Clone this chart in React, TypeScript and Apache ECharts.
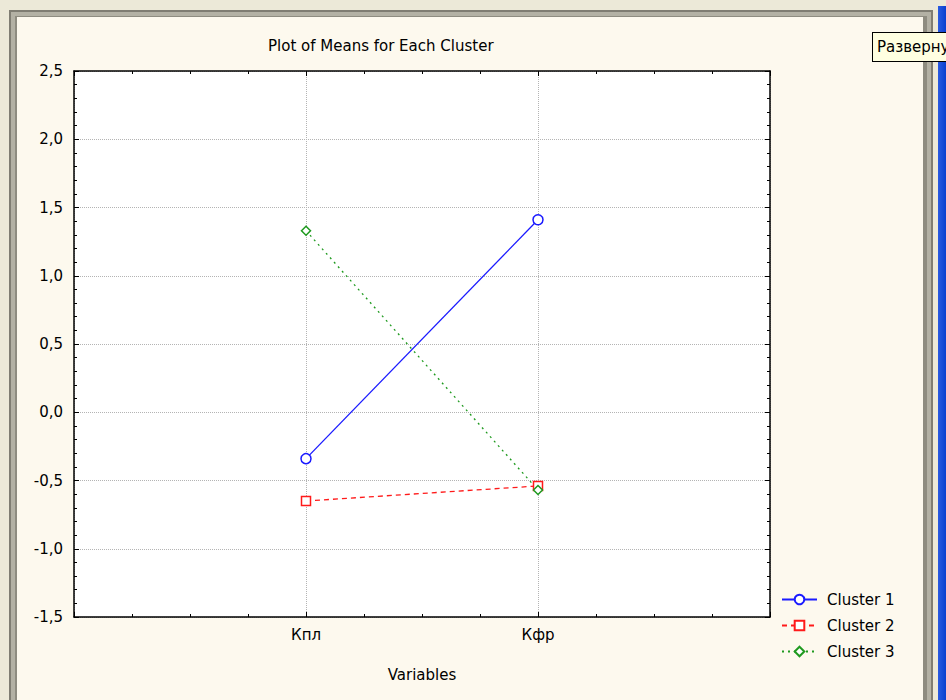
import React, { useEffect, useRef } from "react";
import * as echarts from "echarts";

const categories = ["Кпл", "Кфр"];
const seriesNames = ["Cluster 1", "Cluster 2", "Cluster 3"];
const cluster1 = [-0.34, 1.41];
const cluster2 = [-0.65, -0.54];
const cluster3 = [1.33, -0.57];
const titleText = "Plot of Means for Each Cluster";
const xAxisName = "Variables";
const tooltipText = "Развернуть";

const FONT = "'DejaVu Sans', sans-serif";

function toPoints(values: number[]) {
  return values.map((v, i) => [i + 1, v]);
}

export default function App() {
  const ref = useRef<HTMLDivElement>(null);
  useEffect(() => {
    if (!ref.current) return;
    const chart = echarts.init(ref.current, undefined, { renderer: "svg" });
    const baseX = {
      type: "value" as const,
      min: 0,
      max: 3,
      interval: 1,
      axisLine: { show: true, onZero: false, lineStyle: { color: "#000", width: 1.5 } },
      axisTick: { show: true, inside: true, length: 5, lineStyle: { color: "#000" } },
      minorTick: { show: true, splitNumber: 4, length: 3, lineStyle: { color: "#000" } },
    };
    const baseY = {
      type: "value" as const,
      min: -1.5,
      max: 2.5,
      interval: 0.5,
      axisLine: { show: true, onZero: false, lineStyle: { color: "#000", width: 1.5 } },
      axisTick: { show: true, inside: true, length: 5, lineStyle: { color: "#000" } },
      minorTick: { show: true, splitNumber: 5, length: 3, lineStyle: { color: "#000" } },
    };
    const mk = (
      name: string,
      values: number[],
      color: string,
      symbol: string,
      size: number,
      lineType: any
    ) => ({
      name,
      type: "line" as const,
      data: toPoints(values),
      symbol,
      symbolSize: size,
      showSymbol: true,
      itemStyle: { color: "#fff", borderColor: color, borderWidth: 1.5 },
      lineStyle: { color, width: 1.3, type: lineType },
      z: 5,
    });
    chart.setOption({
      animation: false,
      backgroundColor: "#fdf9ee",
      title: {
        text: titleText,
        left: 246,
        top: 16,
        textStyle: { fontFamily: FONT, fontSize: 15, fontWeight: "normal", color: "#000" },
      },
      grid: {
        left: 57,
        top: 54,
        width: 696,
        height: 546,
        show: true,
        backgroundColor: "#fff",
        borderColor: "#000",
        borderWidth: 0,
      },
      legend: {
        orient: "vertical",
        left: 759,
        top: 570,
        itemWidth: 35,
        itemHeight: 12,
        itemGap: 11,
        textStyle: { fontFamily: FONT, fontSize: 15, color: "#000", padding: [0, 0, 0, 5] },
        data: seriesNames,
      },
      xAxis: [
        {
          ...baseX,
          position: "bottom",
          name: xAxisName,
          nameLocation: "middle",
          nameGap: 50,
          nameTextStyle: { fontFamily: FONT, fontSize: 15, color: "#000" },
          axisLabel: {
            margin: 10,
            fontFamily: FONT,
            fontSize: 15,
            color: "#000",
            formatter: (v: number) => (Number.isInteger(v) && v >= 1 && v <= categories.length ? categories[v - 1] : ""),
          },
          splitLine: { show: true, lineStyle: { color: "#b4b4b4", type: "dotted", width: 1 } },
        },
        {
          ...baseX,
          position: "top",
          axisLabel: { show: false },
          splitLine: { show: false },
        },
      ],
      yAxis: [
        {
          ...baseY,
          position: "left",
          axisLabel: {
            margin: 11,
            fontFamily: FONT,
            fontSize: 15,
            color: "#000",
            formatter: (v: number) => v.toFixed(1).replace(".", ","),
          },
          splitLine: { show: true, lineStyle: { color: "#b4b4b4", type: "dotted", width: 1 } },
        },
        {
          ...baseY,
          position: "right",
          axisLabel: { show: false },
          splitLine: { show: false },
        },
      ],
      series: [
        mk(seriesNames[0], cluster1, "#1a1aff", "circle", 10, "solid"),
        mk(seriesNames[1], cluster2, "#ff1a1a", "rect", 9, [5, 4]),
        mk(seriesNames[2], cluster3, "#1f9a1f", "diamond", 9, [2, 4]),
      ],
    });
    return () => chart.dispose();
  }, []);

  return (
    <div
      style={{
        position: "fixed",
        left: 0,
        top: 0,
        width: 946,
        height: 700,
        overflow: "hidden",
        background: "#ece9d8",
      }}
    >
      <div style={{ position: "absolute", left: 938, top: 6, width: 8, height: 694, background: "linear-gradient(90deg,#2a5be0,#0a3fcf)" }} />
      <div style={{ position: "absolute", left: 9, top: 10, width: 924, height: 700, background: "#7f7d72" }}>
        <div style={{ position: "absolute", left: 2, top: 2, right: 2, bottom: 0, background: "#b3b1a4" }}>
          <div style={{ position: "absolute", left: 4, top: 4, right: 4, bottom: 0, background: "#8e8c80" }} />
        </div>
      </div>
      <div ref={ref} style={{ position: "absolute", left: 17, top: 17, width: 906, height: 683 }} />
      <div
        style={{
          position: "absolute",
          left: 872,
          top: 32,
          height: 28,
          width: 120,
          background: "#ffffe1",
          border: "1px solid #000",
          fontFamily: FONT,
          fontSize: 15,
          lineHeight: "28px",
          paddingLeft: 4,
          whiteSpace: "nowrap",
          color: "#000",
        }}
      >
        {tooltipText}
      </div>
    </div>
  );
}
